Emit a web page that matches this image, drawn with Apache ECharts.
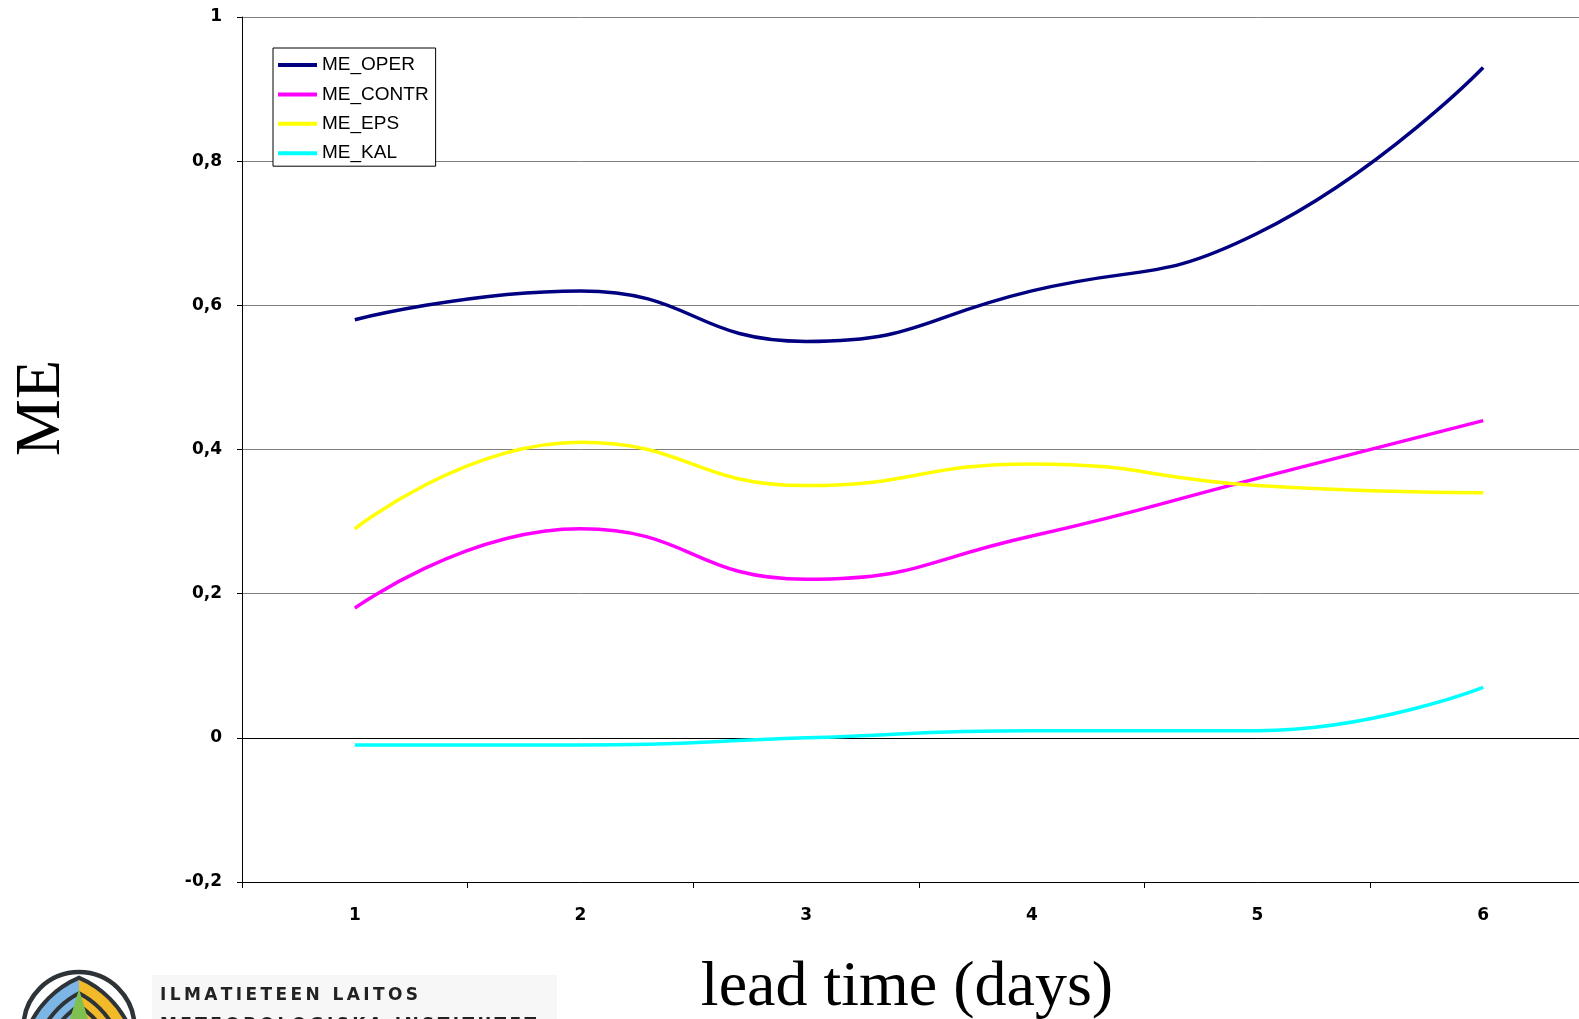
<!DOCTYPE html>
<html>
<head>
<meta charset="utf-8">
<script src="https://cdn.jsdelivr.net/npm/echarts@6/dist/echarts.min.js"></script>
<style>
html,body{margin:0;padding:0;background:#fff;overflow:hidden;width:1579px;height:1019px;}
#main{width:1600px;height:1019px;}
</style>
</head>
<body>
<div id="main"></div>
<script>
var categories = ['1', '2', '3', '4', '5', '6'];
var meOper  = [0.58, 0.62, 0.55, 0.62, 0.70, 0.93];
var meContr = [0.18, 0.29, 0.22, 0.28, 0.36, 0.44];
var meEps   = [0.29, 0.41, 0.35, 0.38, 0.35, 0.34];
var meKal   = [-0.01, -0.01, 0.00, 0.01, 0.01, 0.07];
var seriesNames = ['ME_OPER', 'ME_CONTR', 'ME_EPS', 'ME_KAL'];
var seriesColors = ['#000080', '#ff00ff', '#ffff00', '#00ffff'];
var yTicks = { min: -0.2, max: 1, interval: 0.2 };
var logoLine1 = 'ILMATIETEEN LAITOS';
var logoLine2 = 'METEOROLOGISKA INSTITUTET';

function spaced(s) {
  return s.split('').join('\u2009');
}

var logoSvg =
  '<svg xmlns="http://www.w3.org/2000/svg" width="120" height="64" viewBox="0 0 120 64">' +
  '<defs>' +
  '<clipPath id="d"><circle cx="60" cy="72.6" r="55"/></clipPath>' +
  '<clipPath id="l"><rect x="0" y="0" width="60" height="64"/></clipPath>' +
  '<clipPath id="r"><rect x="60" y="0" width="60" height="64"/></clipPath>' +
  '</defs>' +
  '<g clip-path="url(#d)">' +
  '<rect x="0" y="0" width="120" height="64" fill="#ffffff"/>' +
  '<g clip-path="url(#l)">' +
  '<circle cx="98" cy="112" r="72" fill="none" stroke="#7db6e4" stroke-width="52"/>' +
  '<circle cx="98" cy="112" r="50" fill="none" stroke="#2d3336" stroke-width="4"/>' +
  '<circle cx="98" cy="112" r="61" fill="none" stroke="#2d3336" stroke-width="4"/>' +
  '<circle cx="98" cy="112" r="72" fill="none" stroke="#2d3336" stroke-width="4"/>' +
  '<circle cx="98" cy="112" r="83" fill="none" stroke="#2d3336" stroke-width="4"/>' +
  '<circle cx="98" cy="112" r="97" fill="none" stroke="#2d3336" stroke-width="4"/>' +
  '</g>' +
  '<g clip-path="url(#r)">' +
  '<circle cx="22" cy="112" r="72" fill="none" stroke="#f2b929" stroke-width="52"/>' +
  '<circle cx="22" cy="112" r="50" fill="none" stroke="#2d3336" stroke-width="4"/>' +
  '<circle cx="22" cy="112" r="61" fill="none" stroke="#2d3336" stroke-width="4"/>' +
  '<circle cx="22" cy="112" r="72" fill="none" stroke="#2d3336" stroke-width="4"/>' +
  '<circle cx="22" cy="112" r="83" fill="none" stroke="#2d3336" stroke-width="4"/>' +
  '<circle cx="22" cy="112" r="97" fill="none" stroke="#2d3336" stroke-width="4"/>' +
  '</g>' +
  '<path d="M60 34 L51 64 L69 64 Z" fill="#80c04f"/>' +
  '</g>' +
  '<circle cx="60" cy="72.6" r="55.5" fill="none" stroke="#2d3336" stroke-width="4.5"/>' +
  '</svg>';
var logoUri = 'data:image/svg+xml;charset=utf-8,' + encodeURIComponent(logoSvg);

var chart = echarts.init(document.getElementById('main'), null, { renderer: 'canvas' });

function mkSeries(name, data, color, extra) {
  var s = {
    name: name,
    type: 'line',
    data: data,
    smooth: true,
    symbol: 'none',
    showSymbol: false,
    lineStyle: { color: color, width: 3.5 },
    itemStyle: { color: color },
    z: 5
  };
  if (extra) for (var k in extra) s[k] = extra[k];
  return s;
}

var legendData = seriesNames.map(function (n) { return { name: n, icon: 'rect' }; });

var option = {
  animation: false,
  backgroundColor: '#ffffff',
  grid: { left: 242, top: 17, width: 1354, height: 865, containLabel: false },
  legend: {
    left: 273, top: 48,
    orient: 'vertical',
    data: legendData,
    backgroundColor: '#ffffff',
    borderColor: '#000000',
    borderWidth: 1,
    borderRadius: 0,
    padding: [7, 7, 3, 5],
    itemWidth: 39,
    itemHeight: 4,
    itemGap: 9.4,
    textStyle: { fontFamily: 'Liberation Sans', fontSize: 19, lineHeight: 20, color: '#000' }
  },
  xAxis: {
    type: 'category',
    data: categories,
    boundaryGap: true,
    axisLine: { onZero: false, lineStyle: { color: '#000', width: 1 } },
    axisTick: { show: true, length: 6, inside: false, alignWithLabel: false, lineStyle: { color: '#000' } },
    axisLabel: { margin: 25, fontFamily: 'DejaVu Sans', fontWeight: 'bold', fontSize: 17, color: '#000' },
    splitLine: { show: false }
  },
  yAxis: {
    type: 'value',
    min: yTicks.min, max: yTicks.max, interval: yTicks.interval,
    axisLine: { show: true, lineStyle: { color: '#000', width: 1 } },
    axisTick: { show: true, length: 5, lineStyle: { color: '#000' } },
    axisLabel: {
      margin: 20, fontFamily: 'DejaVu Sans', fontWeight: 'bold', fontSize: 17, color: '#000',
      formatter: function (v) { return (Math.round(v * 10) / 10).toString().replace('.', ','); }
    },
    splitLine: { show: true, lineStyle: { color: '#808080', width: 1 } }
  },
  series: [
    mkSeries(seriesNames[0], meOper, seriesColors[0], {
      markLine: {
        silent: true, symbol: 'none', label: { show: false },
        lineStyle: { color: '#000', width: 1, type: 'solid' },
        data: [{ yAxis: 0 }], z: 3
      }
    }),
    mkSeries(seriesNames[1], meContr, seriesColors[1]),
    mkSeries(seriesNames[2], meEps, seriesColors[2]),
    mkSeries(seriesNames[3], meKal, seriesColors[3])
  ],
  graphic: [
    {
      type: 'text', x: 42, y: 408, rotation: Math.PI / 2,
      style: { text: 'ME', font: '64px "Liberation Serif"', fill: '#000', textAlign: 'center', textVerticalAlign: 'middle' }
    },
    {
      type: 'text', x: 907, y: 988,
      style: { text: 'lead time (days)', font: '64px "Liberation Serif"', fill: '#000', textAlign: 'center', textVerticalAlign: 'middle' }
    },
    { type: 'rect', shape: { x: 152, y: 975, width: 405, height: 44 }, style: { fill: '#f7f7f7' }, z: 0 },
    { type: 'image', x: 19, y: 955, style: { image: logoUri, width: 120, height: 64 }, z: 2 },
    {
      type: 'text', x: 160, y: 996,
      style: { text: spaced(logoLine1), font: 'bold 17px "DejaVu Sans"', fill: '#222', textAlign: 'left', textVerticalAlign: 'middle' }, z: 5
    },
    {
      type: 'text', x: 160, y: 1017,
      style: { text: spaced(logoLine2), font: 'bold 17px "DejaVu Sans"', fill: '#222', textAlign: 'left', textVerticalAlign: 'top' }, z: 5
    }
  ]
};
chart.setOption(option);
</script>
</body>
</html>
